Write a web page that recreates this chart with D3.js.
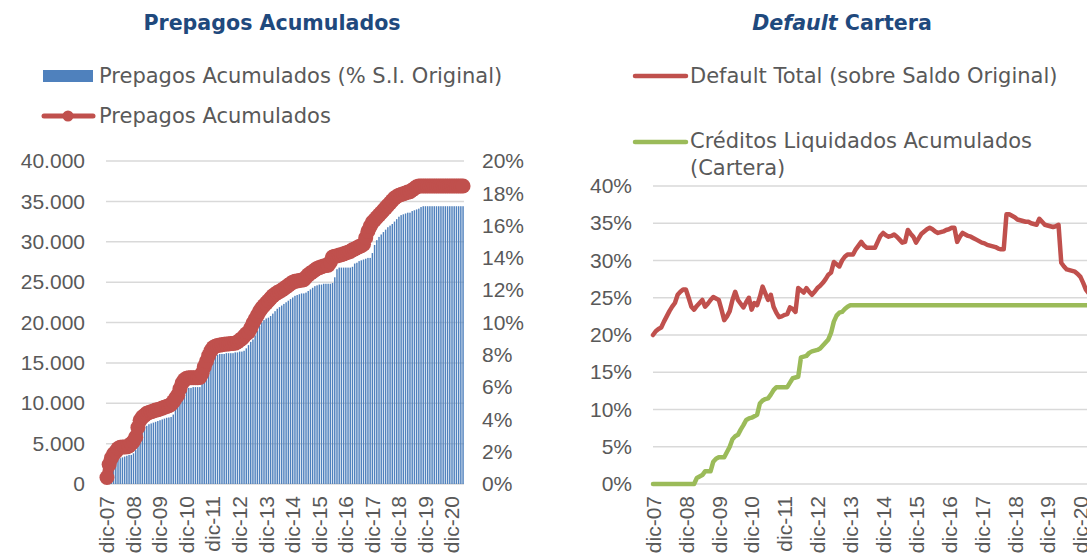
<!DOCTYPE html>
<html lang="es">
<head>
<meta charset="UTF-8">
<title>Prepagos Acumulados / Default Cartera</title>
<script src="https://d3js.org/d3.v7.min.js"></script>
<style>
  body { margin: 0; background: #fff; }
  svg { font-family: "DejaVu Sans", Verdana, sans-serif; display: block; }
  .tick text { fill: #595959; font-size: 21px; }
  .legend text { fill: #595959; font-size: 21px; }
  .title { fill: #1F497D; font-size: 20.6px; font-weight: bold; }
</style>
</head>
<body>
<div id="chart"></div>
<script>
  // month names (categories run dic-07 .. may-21)
  const monthNames = ["ene", "feb", "mar", "abr", "may", "jun", "jul", "ago", "sep", "oct", "nov", "dic"];
  const months = d3.range(162).map(i => {
    const k = 11 + i;
    return monthNames[k % 12] + "-" + String(7 + Math.floor(k / 12)).padStart(2, "0");
  });

  // Prepagos acumulados (count, left axis)
  const prepagosCount = [
    800, 2400, 3200, 3700, 4000, 4400, 4550, 4580, 4580, 4600, 4700, 5000,
    5300, 5800, 7000, 7900, 8300, 8500, 8750, 8850, 8950, 9050, 9150, 9200,
    9300, 9400, 9500, 9600, 9700, 9850, 10200, 10600, 11000, 11800, 12500, 12900,
    13100, 13150, 13150, 13150, 13150, 13150, 13200, 13700, 14500, 15200, 15900, 16500,
    16900, 17050, 17150, 17200, 17250, 17300, 17350, 17350, 17400, 17400, 17450, 17600,
    17800, 18000, 18300, 18600, 18800, 19300, 19900, 20400, 20900, 21400, 21800, 22100,
    22400, 22700, 23000, 23300, 23500, 23700, 23850, 24000, 24200, 24400, 24600, 24800,
    25000, 25100, 25150, 25200, 25250, 25300, 25600, 25900, 26100, 26300, 26500, 26700,
    26800, 26900, 27000, 27050, 27100, 27500, 28100, 28200, 28250, 28350, 28400, 28500,
    28600, 28700, 28800, 29000, 29100, 29250, 29400, 29500, 29700, 30500, 31300, 31900,
    32400, 32700, 33000, 33300, 33600, 33900, 34200, 34500, 34800, 35100, 35400, 35600,
    35750, 35850, 35950, 36050, 36150, 36200, 36400, 36600, 36800, 36900, 36900, 36900,
    36900, 36900, 36900, 36900, 36900, 36900, 36900, 36900, 36900, 36900, 36900, 36900,
    36900, 36900, 36900, 36900, 36900, 36900
  ];

  // Prepagos acumulados (% S.I. original, right axis)
  const prepagosPct = [
    0.3, 0.8, 1.1, 1.25, 1.3, 1.5, 1.6, 1.65, 1.7, 1.75, 1.8, 1.8,
    1.9, 2.1, 2.5, 3.0, 3.4, 3.55, 3.6, 3.7, 3.75, 3.8, 3.85, 3.9,
    3.95, 4.0, 4.05, 4.1, 4.12, 4.15, 4.3, 4.7, 5.1, 5.4, 5.6, 5.8,
    5.9, 5.95, 5.95, 6.0, 6.0, 6.0, 6.0, 6.2, 6.8, 7.4, 7.7, 7.9,
    7.95, 8.0, 8.0, 8.05, 8.05, 8.05, 8.1, 8.1, 8.1, 8.1, 8.15, 8.15,
    8.2, 8.2, 8.25, 8.4, 8.6, 8.8, 8.95, 9.2, 9.5, 9.8, 10.0, 10.15,
    10.25, 10.3, 10.4, 10.55, 10.7, 10.85, 10.95, 11.05, 11.15, 11.25, 11.35, 11.45,
    11.55, 11.65, 11.7, 11.75, 11.8, 11.8, 11.85, 11.95, 12.05, 12.15, 12.25, 12.3,
    12.35, 12.35, 12.4, 12.4, 12.4, 12.4, 12.45, 12.8, 13.3, 13.4, 13.4, 13.4,
    13.4, 13.4, 13.4, 13.45, 13.65, 13.7, 13.8, 13.85, 13.9, 13.95, 14.0, 14.0,
    14.3, 14.8, 15.1, 15.3, 15.45, 15.6, 15.75, 15.9, 16.0, 16.1, 16.25, 16.4,
    16.55, 16.65, 16.7, 16.75, 16.8, 16.8, 16.9, 16.95, 17.0, 17.05, 17.15, 17.2,
    17.2, 17.2, 17.2, 17.2, 17.2, 17.2, 17.2, 17.2, 17.2, 17.2, 17.2, 17.2,
    17.2, 17.2, 17.2, 17.2, 17.2, 17.2
  ];

  // Default total (sobre saldo original), %
  const defaultTotal = [
    20.0, 20.5, 20.8, 21.0, 21.8, 22.5, 23.2, 23.8, 24.3, 25.4, 25.8, 26.1,
    26.1, 25.0, 23.8, 23.4, 23.9, 24.3, 24.7, 23.8, 24.2, 24.7, 25.1, 24.9,
    24.7, 23.4, 22.0, 22.5, 23.2, 24.7, 25.8, 24.7, 24.2, 23.7, 24.4, 25.0,
    23.4, 24.3, 24.0, 25.1, 26.5, 25.6, 24.7, 25.4, 23.8, 23.0, 22.4, 22.5,
    22.7, 22.8, 23.7, 23.5, 23.1, 26.3, 26.0, 25.7, 26.3, 25.8, 25.4, 25.8,
    26.3, 26.6, 27.0, 27.5, 28.1, 28.4, 29.8, 29.5, 29.2, 30.0, 30.5, 30.8,
    30.8, 30.8, 31.5, 32.0, 32.5, 32.0, 31.7, 31.7, 31.7, 31.7, 32.5, 33.3,
    33.7, 33.4, 33.2, 33.3, 33.5, 33.2, 32.8, 32.4, 32.5, 34.1, 33.6, 33.2,
    32.4, 33.0, 33.6, 33.9, 34.2, 34.4, 34.2, 33.9, 33.7, 33.8, 33.9, 34.1,
    34.2, 34.4, 34.4, 32.5, 33.2, 33.7, 33.5, 33.3, 33.2, 33.0, 32.8, 32.6,
    32.4, 32.3, 32.1, 32.0, 31.9, 31.8, 31.6, 31.5, 31.5, 36.2, 36.2, 36.0,
    35.8, 35.5, 35.4, 35.3, 35.2, 35.2, 35.0, 34.9, 34.8, 35.6, 35.2, 34.8,
    34.7, 34.6, 34.5, 34.6, 34.8, 29.7, 29.2, 28.8, 28.7, 28.6, 28.5, 28.2,
    27.8, 27.0, 26.1, 25.6, 25.2, 24.9
  ];

  // Creditos liquidados acumulados (cartera), %
  const liquidados = [
    0, 0, 0, 0, 0, 0, 0, 0, 0, 0, 0, 0,
    0, 0, 0, 0, 0.8, 1.0, 1.2, 1.7, 1.7, 1.7, 3.0, 3.4,
    3.6, 3.6, 3.6, 4.3, 5.0, 6.0, 6.4, 6.6, 7.3, 7.9, 8.6, 8.8,
    8.9, 9.1, 9.3, 10.8, 11.2, 11.4, 11.5, 12.0, 12.6, 13.0, 13.0, 13.0,
    13.0, 13.0, 13.6, 14.2, 14.3, 14.4, 17.0, 17.1, 17.2, 17.6, 17.8, 17.9,
    18.0, 18.2, 18.6, 19.0, 19.4, 20.3, 21.8, 22.6, 23.0, 23.1, 23.5, 23.8,
    24, 24, 24, 24, 24, 24, 24, 24, 24, 24, 24, 24,
    24, 24, 24, 24, 24, 24, 24, 24, 24, 24, 24, 24,
    24, 24, 24, 24, 24, 24, 24, 24, 24, 24, 24, 24,
    24, 24, 24, 24, 24, 24, 24, 24, 24, 24, 24, 24,
    24, 24, 24, 24, 24, 24, 24, 24, 24, 24, 24, 24,
    24, 24, 24, 24, 24, 24, 24, 24, 24, 24, 24, 24,
    24, 24, 24, 24, 24, 24, 24, 24, 24, 24, 24, 24,
    24, 24, 24, 24, 24, 24
  ];

  const leftTicks = [0, 5000, 10000, 15000, 20000, 25000, 30000, 35000, 40000];
  const pctTicks = [0, 2, 4, 6, 8, 10, 12, 14, 16, 18, 20];
  const defTicks = [0, 5, 10, 15, 20, 25, 30, 35, 40];

  const red = "#C0504D", blue = "#4F81BD", green = "#9BBB59", grid = "#D9D9D9";
  const thousands = d3.formatLocale({ decimal: ",", thousands: ".", grouping: [3], currency: ["", ""] }).format(",");

  const svg = d3.select("#chart").append("svg")
    .attr("width", 1087)
    .attr("height", 560);

  // ---------- left chart: Prepagos Acumulados ----------
  const xL = d3.scaleBand().domain(months).range([106, 464]).paddingInner(0.35).paddingOuter(0.1);
  const yL = d3.scaleLinear().domain([0, 40000]).range([484, 161]);
  const yP = d3.scaleLinear().domain([0, 20]).range([484, 161]);

  svg.append("text").attr("class", "title")
    .attr("x", 272).attr("y", 30).attr("text-anchor", "middle")
    .text("Prepagos Acumulados");

  svg.append("g").selectAll("line").data(leftTicks).join("line")
    .attr("x1", 106).attr("x2", 464)
    .attr("y1", d => yL(d)).attr("y2", d => yL(d))
    .attr("stroke", grid).attr("stroke-width", 1.5);

  svg.append("g").selectAll("rect").data(prepagosPct).join("rect")
    .attr("x", (d, i) => xL(months[i]))
    .attr("y", d => yP(d))
    .attr("width", xL.bandwidth())
    .attr("height", d => 484 - yP(d))
    .attr("fill", blue);

  const lineL = d3.line()
    .x((d, i) => xL(months[i]) + xL.bandwidth() / 2)
    .y(d => yL(d));

  svg.append("path").datum(prepagosCount)
    .attr("d", lineL)
    .attr("fill", "none").attr("stroke", red)
    .attr("stroke-width", 11).attr("stroke-linejoin", "round").attr("stroke-linecap", "round");

  svg.append("g").selectAll("circle").data(prepagosCount).join("circle")
    .attr("cx", (d, i) => xL(months[i]) + xL.bandwidth() / 2)
    .attr("cy", d => yL(d))
    .attr("r", 7.5).attr("fill", red);

  svg.append("g").attr("transform", "translate(85,0)")
    .call(d3.axisLeft(yL).tickValues(leftTicks).tickSize(0).tickPadding(0).tickFormat(thousands))
    .call(g => g.select(".domain").remove());

  svg.append("g").attr("transform", "translate(482,0)")
    .call(d3.axisRight(yP).tickValues(pctTicks).tickSize(0).tickPadding(0).tickFormat(d => d + "%"))
    .call(g => g.select(".domain").remove());

  svg.append("g").attr("transform", "translate(0,484)")
    .call(d3.axisBottom(xL).tickValues(months.filter((d, i) => i % 12 === 0)).tickSize(0))
    .call(g => g.select(".domain").remove())
    .selectAll("text")
    .attr("transform", "rotate(-90)")
    .attr("text-anchor", "end")
    .attr("x", -12).attr("y", 0).attr("dy", "0.35em");

  // legend (left)
  const legL = svg.append("g").attr("class", "legend");
  legL.append("rect").attr("x", 43).attr("y", 70).attr("width", 50).attr("height", 12).attr("fill", blue);
  legL.append("text").attr("x", 99).attr("y", 83).text("Prepagos Acumulados (% S.I. Original)");
  legL.append("line").attr("x1", 44).attr("x2", 93).attr("y1", 116).attr("y2", 116)
    .attr("stroke", red).attr("stroke-width", 5).attr("stroke-linecap", "round");
  legL.append("circle").attr("cx", 68).attr("cy", 116).attr("r", 5.5).attr("fill", red);
  legL.append("text").attr("x", 99).attr("y", 123).text("Prepagos Acumulados");

  // ---------- right chart: Default Cartera ----------
  const xR = d3.scalePoint().domain(months).range([653, 653 + 161 * 2.74]);
  const yR = d3.scaleLinear().domain([0, 40]).range([484, 186]);

  const title2 = svg.append("text").attr("class", "title")
    .attr("x", 842).attr("y", 30).attr("text-anchor", "middle");
  title2.append("tspan").attr("font-style", "italic").text("Default");
  title2.append("tspan").text(" Cartera");

  svg.append("g").selectAll("line").data(defTicks).join("line")
    .attr("x1", 653).attr("x2", 1100)
    .attr("y1", d => yR(d)).attr("y2", d => yR(d))
    .attr("stroke", grid).attr("stroke-width", 1.5);

  const lineR = d3.line()
    .x((d, i) => xR(months[i]))
    .y(d => yR(d));

  svg.append("path").datum(liquidados)
    .attr("d", lineR)
    .attr("fill", "none").attr("stroke", green)
    .attr("stroke-width", 4.5).attr("stroke-linejoin", "round").attr("stroke-linecap", "round");

  svg.append("path").datum(defaultTotal)
    .attr("d", lineR)
    .attr("fill", "none").attr("stroke", red)
    .attr("stroke-width", 4.5).attr("stroke-linejoin", "round").attr("stroke-linecap", "round");

  svg.append("g").attr("transform", "translate(632,0)")
    .call(d3.axisLeft(yR).tickValues(defTicks).tickSize(0).tickPadding(0).tickFormat(d => d + "%"))
    .call(g => g.select(".domain").remove());

  svg.append("g").attr("transform", "translate(0,484)")
    .call(d3.axisBottom(xR).tickValues(months.filter((d, i) => i % 12 === 0)).tickSize(0))
    .call(g => g.select(".domain").remove())
    .selectAll("text")
    .attr("transform", "rotate(-90)")
    .attr("text-anchor", "end")
    .attr("x", -12).attr("y", 0).attr("dy", "0.35em");

  // legend (right)
  const legR = svg.append("g").attr("class", "legend");
  legR.append("line").attr("x1", 635).attr("x2", 686).attr("y1", 76).attr("y2", 76)
    .attr("stroke", red).attr("stroke-width", 4.5).attr("stroke-linecap", "round");
  legR.append("text").attr("x", 690).attr("y", 83).text("Default Total (sobre Saldo Original)");
  legR.append("line").attr("x1", 635).attr("x2", 686).attr("y1", 142).attr("y2", 142)
    .attr("stroke", green).attr("stroke-width", 4.5).attr("stroke-linecap", "round");
  legR.append("text").attr("x", 690).attr("y", 148).text("Créditos Liquidados Acumulados");
  legR.append("text").attr("x", 690).attr("y", 175).text("(Cartera)");
</script>
</body>
</html>
